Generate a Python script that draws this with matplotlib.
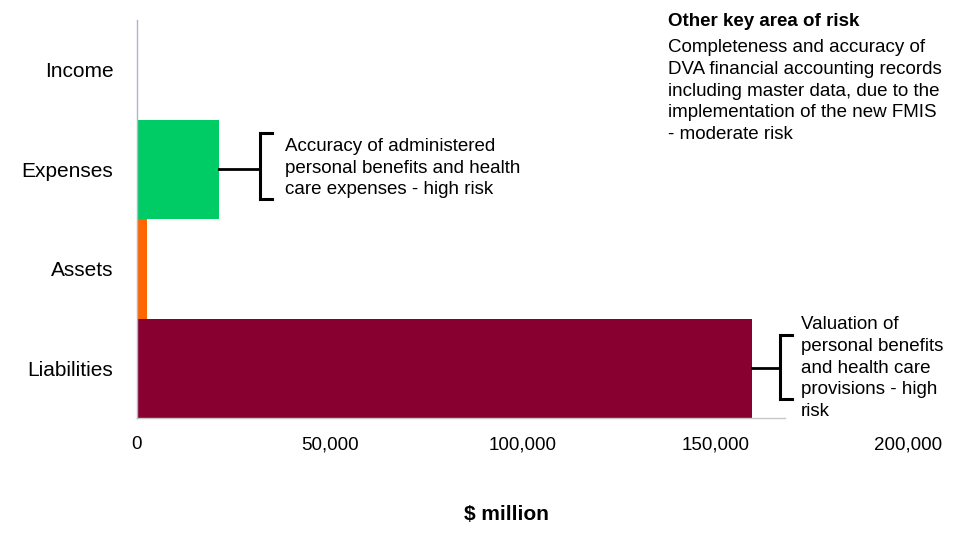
import matplotlib
matplotlib.use('Agg')
import matplotlib.pyplot as plt
import matplotlib.ticker as mticker

plt.rcParams['font.family'] = ['Liberation Sans', 'DejaVu Sans']

# data ($ million)
categories = ['Liabilities', 'Assets', 'Expenses', 'Income']
values = [159600, 2600, 21200, 0]
colors = ['#880030', '#FF6600', '#00CC66', '#FFFFFF']
xticks = [0, 50000, 100000, 150000, 200000]
axis_line_end = 168000

FS = 15      # category labels / axis title
FS2 = 13.5   # tick labels and notes
LS = 1.36

fig = plt.figure(figsize=(9.7, 5.41), dpi=100)
ax = fig.add_axes([137/970, 1-418/541, (908-137)/970, (418-20)/541])

ypos = list(range(len(categories)))
ax.barh(ypos, values, height=1.0, color=colors)

ax.set_xlim(0, 200000)
ax.set_ylim(-0.5, 3.5)
ax.set_yticks(ypos)
ax.set_yticklabels(categories, fontsize=FS)
ax.set_xticks(xticks)
ax.xaxis.set_major_formatter(mticker.FuncFormatter(lambda v, p: '{:,.0f}'.format(v)))
ax.tick_params(axis='x', length=0, pad=13, labelsize=FS2)
ax.tick_params(axis='y', length=0, pad=17)

for s in ['top', 'right', 'bottom']:
    ax.spines[s].set_visible(False)
ax.spines['left'].set_color('#AAB6D6')
ax.spines['left'].set_linewidth(1)
ax.plot([0, axis_line_end], [-0.5, -0.5], color='#C8C8C8', lw=1, clip_on=False)

fig.text(506/970, 1-514/541, '$ million', fontsize=FS, fontweight='bold',
         ha='center', va='center')

px = 50000/193.0  # data units per pixel
py = 1/99.5


def bracket(y, x0, x1, x2, up, down):
    # connector from bar end, then a square bracket opening right
    ax.plot([x0, x1], [y, y], color='black', lw=2, clip_on=False)
    ax.plot([x2, x1, x1, x2], [y+up, y+up, y-down, y-down], color='black',
            lw=2.2, clip_on=False, solid_joinstyle='miter')


# Expenses annotation
yE = ypos[2]
xE = values[2]
bracket(yE, xE, xE + 41*px, xE + 53*px, 36*py, 30*py)
ax.text(xE + 66*px, yE + 1*py,
        'Accuracy of administered\npersonal benefits and health\ncare expenses - high risk',
        fontsize=FS2, va='center', ha='left', linespacing=LS)

# Liabilities annotation
yL = ypos[0]
xL = values[0]
bracket(yL, xL, xL + 28*px, xL + 40*px, 33*py, 31*py)
ax.text(xL + 49*px, yL + 0*py,
        'Valuation of\npersonal benefits\nand health care\nprovisions - high\nrisk',
        fontsize=FS2, va='center', ha='left', linespacing=LS, clip_on=False)

# other risk box
fig.text(668/970, 1-21/541, 'Other key area of risk', fontsize=FS2,
         fontweight='bold', va='center', ha='left')
fig.text(668/970, 1-91/541,
         'Completeness and accuracy of\nDVA financial accounting records\n'
         'including master data, due to the\nimplementation of the new FMIS\n- moderate risk',
         fontsize=FS2, va='center', ha='left', linespacing=LS)

fig.savefig('out.png', dpi=100)
